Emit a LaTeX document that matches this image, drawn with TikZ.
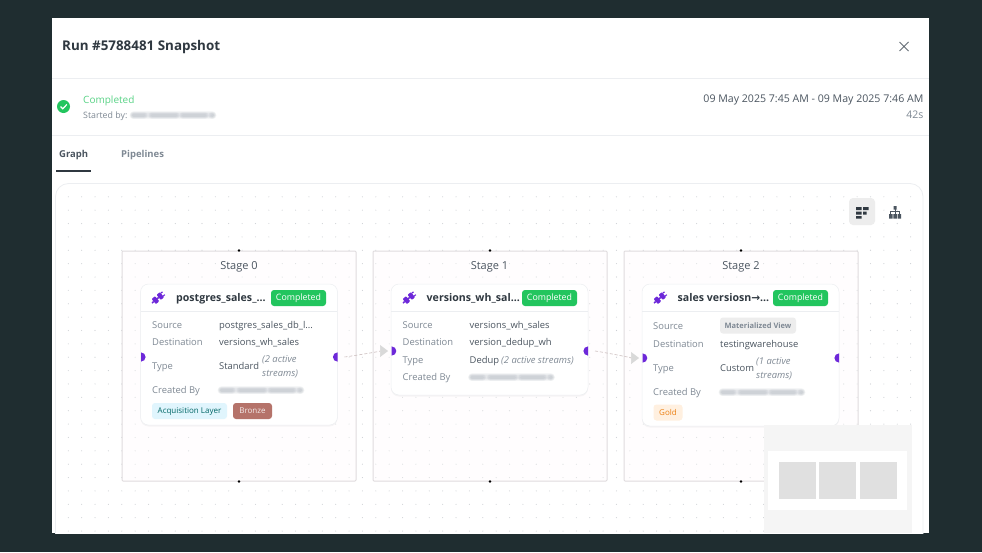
\documentclass[tikz,border=0pt]{standalone}
\usepackage{fontspec}
\setmainfont{Open Sans}
\newfontfamily\arrowfont{DejaVu Sans}
\usepackage{xcolor}
\usetikzlibrary{positioning,calc,arrows.meta,shadows}

\definecolor{bgdark}{HTML}{1F2D30}
\definecolor{inktext}{HTML}{2F3840}
\definecolor{midtext}{HTML}{4B5560}
\definecolor{softtext}{HTML}{7F8994}
\definecolor{hairline}{HTML}{ECEEF1}
\definecolor{griddot}{HTML}{CDD0D4}
\definecolor{portpurple}{HTML}{6D28D9}
\definecolor{okgreen}{HTML}{22C55E}
\definecolor{stageline}{HTML}{E0DCDE}
\definecolor{stagefill}{HTML}{FFFBFC}
\definecolor{bronze}{HTML}{B5736A}
\definecolor{edgeline}{HTML}{CBBDBD}

\tikzset{
  txt/.style={inner sep=0pt,text height=7pt,text depth=2pt,yshift=-1pt},
  lbl/.style={txt,anchor=west,text=softtext,font=\fontsize{9.4}{11}\selectfont},
  val/.style={txt,anchor=west,text=midtext,font=\fontsize{9.4}{11}\selectfont},
  streams/.style={txt,anchor=west,text=softtext,font=\fontsize{9.4}{11}\selectfont\itshape},
  stagebox/.style={draw=stageline,line width=1pt,fill=stagefill,fill opacity=0.3,rounded corners=1pt,
    minimum width=234pt,minimum height=230pt,inner sep=0pt},
  stagetitle/.style={txt,text=midtext,font=\fontsize{11}{13}\selectfont},
  cardbox/.style={draw=hairline,line width=0.5pt,fill=white,rounded corners=8pt,minimum width=197pt,inner sep=0pt,
    drop shadow={opacity=0.07,shadow xshift=0pt,shadow yshift=-1.5pt}},
  cardtitle/.style={txt,anchor=west,text=inktext,font=\fontsize{10.6}{12}\selectfont\bfseries},
  pill/.style={txt,yshift=1pt,rounded corners=3pt,minimum height=16pt,font=\fontsize{8}{10}\selectfont},
  donepill/.style={pill,fill=okgreen,text=white,minimum width=55pt,font=\fontsize{8.8}{10}\selectfont},
  blob/.style={draw=softtext,opacity=0.07,line cap=round},
  stagedot/.style={circle,fill=black,inner sep=0pt,minimum size=2.6pt},
  thumb/.style={fill=black!12,inner sep=0pt,minimum width=37pt,minimum height=37pt},
  flowedge/.style={densely dashed,draw=edgeline,line width=0.6pt,shorten <=7pt,shorten >=3.7pt,
    -{Triangle[length=8pt,width=12pt,color=black!15]}},
  plugicon/.pic={
    \begin{scope}[rotate=40,scale=0.92]
      \fill[portpurple,rounded corners=0.8pt] (-6,-3.6) rectangle (-1.2,3.6);
      \fill[portpurple,rounded corners=0.8pt] (1,-3.6) rectangle (5.6,3.6);
      \fill[portpurple] (-8.5,-0.8) rectangle (-6,0.8);
      \fill[portpurple] (5.6,-2.6) rectangle (8,-1.4);
      \fill[portpurple] (5.6,1.4) rectangle (8,2.6);
      \fill[portpurple] (-1.2,-0.8) rectangle (1,0.8);
    \end{scope}
  }
}

% soft bars in place of the blurred name
\newcommand{\blurname}[2]{
  \foreach \w in {8,6,4}
    \draw[blob,line width=\w pt] ({#1+3},#2) -- ({#1+81},#2);
  \foreach \a/\b in {2/13,21/45,52/74,81/82}
    \foreach \w in {7,5,3}
      \draw[blob,line width=\w pt] ({#1+\a},#2) -- ({#1+\b},#2);
}
\newcommand{\leftport}[1]{\fill[portpurple] ($(#1)+(0,-4.6)$) arc[start angle=90,end angle=-90,radius=4.6pt] -- cycle;}
\newcommand{\rightport}[1]{\fill[portpurple] ($(#1)+(0,-4.6)$) arc[start angle=90,end angle=270,radius=4.6pt] -- cycle;}

\begin{document}
\begin{tikzpicture}[x=1pt,y=-1pt]
    \useasboundingbox (0,0) rectangle (982,552);
    \fill[bgdark] (0,0) rectangle (982,552);

    % Modal
    \node[fill=white,inner sep=0pt,minimum width=877pt,minimum height=515pt] (modal) at (490.5,275.5) {};
    \node[txt,anchor=west,text=inktext,font=\fontsize{13.4}{15}\selectfont\bfseries] (runtitle) at (62,47) {Run \#5788481 Snapshot};
    \draw[softtext!80!black,line width=0.9pt] (899.5,42) -- (908.5,51) (908.5,42) -- (899.5,51);
    \draw[hairline,line width=0.7pt] (52,78) -- (929,78) (52,135) -- (929,135);

    % Status row
    \node[circle,fill=okgreen,inner sep=0pt,minimum size=13pt] (okdot) at (63.5,106.5) {};
    \draw[white,line width=1.2pt] (60.5,106.5) -- (62.8,108.8) -- (66.8,104.5);
    \node[txt,anchor=west,text=okgreen!75!white,font=\fontsize{10}{12}\selectfont] (status) at (83,100) {Completed};
    \node[txt,anchor=west,text=softtext,font=\fontsize{8.8}{10}\selectfont] (startedby) at (83,115) {Started by:};
    \blurname{131}{115}
    \node[txt,anchor=east,text=midtext,font=\fontsize{10.6}{12}\selectfont] (daterange) at (923.5,99) {09 May 2025 7:45 AM - 09 May 2025 7:46 AM};
    \node[txt,anchor=east,text=softtext,font=\fontsize{10.5}{12}\selectfont] (elapsed) at (923.5,115) {42s};

    % Tabs
    \node[txt,anchor=west,text=midtext,font=\fontsize{9.5}{11}\selectfont\bfseries] (tabgraph) at (59,154) {Graph};
    \node[txt,anchor=west,text=softtext,font=\fontsize{9.5}{11}\selectfont\bfseries] (tabpipes) at (121,154) {Pipelines};
    \draw[inktext,line width=1.2pt] (56,171) -- (91,171);

    % Panel and its dot grid
    \begin{scope}
      \clip (52,175) rectangle (929,533);
      \draw[hairline,line width=0.8pt,fill=white,rounded corners=13pt] (55.5,183.5) rectangle (923,570);
      \foreach \i in {0,...,63}
        \foreach \j in {0,...,25}
          \fill[griddot] ({68.3+13.37*\i},{196.8+13.37*\j}) circle (0.55pt);
    \end{scope}

    % View buttons
    \node[fill=black!7,rounded corners=4pt,inner sep=0pt,minimum width=26pt,minimum height=27pt] (gridbtn) at (862,211.5) {};
    \fill[inktext] (856,207) rectangle (861.5,210) (863,207) rectangle (868.5,210)
      (856,211.5) rectangle (861.5,214.5) (863,211.5) rectangle (866.5,214.5) (856,216) rectangle (861.5,218.5);
    \fill[midtext] (893.5,206) rectangle (896.5,209.5) (889,214) rectangle (892.5,218.5)
      (893.3,214) rectangle (896.8,218.5) (897.5,214) rectangle (901,218.5);
    \draw[midtext,line width=0.8pt] (895,209) -- (895,214) (890.7,214) -- (890.7,211.7) -- (899.3,211.7) -- (899.3,214);

    % Stage boxes
    \node[stagebox] (stage0) at (239,366) {};
    \node[stagebox] (stage1) at (490,366) {};
    \node[stagebox] (stage2) at (741,366) {};
    \node[stagetitle] (title0) at (239,266) {Stage 0};
    \node[stagetitle] (title1) at (489.5,266) {Stage 1};
    \node[stagetitle] (title2) at (741,266) {Stage 2};
    \foreach \s in {stage0,stage1,stage2} {
      \node[stagedot] at (\s.north) {};
      \node[stagedot] at (\s.south) {};
    }

    % Card 0
    \node[cardbox,minimum height=141pt] (card0) at (239,354.5) {};
    \draw[hairline,line width=0.7pt] (141,311) -- (337,311);
    \pic at (158,298) {plugicon};
    \node[cardtitle] (name0) at (176,298) {postgres\_sales\_...};
    \node[donepill] (done0) at (298.5,298) {Completed};
    \node[lbl] (src0) at (152,325) {Source};
    \node[lbl] (dst0) at (152,342) {Destination};
    \node[lbl] (typ0) at (152,366) {Type};
    \node[lbl] (own0) at (152,390) {Created By};
    \node[val] (srcval0) at (219,325) {postgres\_sales\_db\_l...};
    \node[val] (dstval0) at (219,342) {versions\_wh\_sales};
    \node[val] (typval0) at (219,366) {Standard};
    \node[streams] (strm0a) at (262,359) {(2 active};
    \node[streams] (strm0b) at (262,373) {streams)};
    \blurname{219}{390}
    \node[pill,fill=cyan!12,text=teal!80!black,minimum width=75pt] (layer0) at (189.5,411) {Acquisition Layer};
    \node[pill,fill=bronze,text=white!85!bronze,minimum width=39pt] (medal0) at (252.5,411) {Bronze};

    % Card 1
    \node[cardbox,minimum height=111pt] (card1) at (489.5,339.5) {};
    \draw[hairline,line width=0.7pt] (391,311) -- (588,311);
    \pic at (409,298) {plugicon};
    \node[cardtitle] (name1) at (426.5,298) {versions\_wh\_sal...};
    \node[donepill] (done1) at (549.5,298) {Completed};
    \node[lbl] (src1) at (402.5,325) {Source};
    \node[lbl] (dst1) at (402.5,342) {Destination};
    \node[lbl] (typ1) at (402.5,359.5) {Type};
    \node[lbl] (own1) at (402.5,377) {Created By};
    \node[val] (srcval1) at (469.5,325) {versions\_wh\_sales};
    \node[val] (dstval1) at (469.5,342) {version\_dedup\_wh};
    \node[val] (typval1) at (469.5,359.5) {Dedup};
    \node[streams] (strm1) at (501,359.5) {(2 active streams)};
    \blurname{469.5}{377}

    % Card 2
    \node[cardbox,minimum height=142pt] (card2) at (740.5,355) {};
    \draw[hairline,line width=0.7pt] (642,311) -- (839,311);
    \pic at (660,298) {plugicon};
    \node[cardtitle] (name2) at (677.5,298) {sales versiosn{\arrowfont→}...};
    \node[donepill] (done2) at (800.5,298) {Completed};
    \node[lbl] (src2) at (653,325.5) {Source};
    \node[lbl] (dst2) at (653,344) {Destination};
    \node[lbl] (typ2) at (653,368) {Type};
    \node[lbl] (own2) at (653,392) {Created By};
    \node[pill,fill=black!7,text=softtext,minimum width=76pt,font=\fontsize{7.5}{10}\selectfont\bfseries] (srcval2) at (758,325.5) {Materialized View};
    \node[val] (dstval2) at (720,344) {testingwarehouse};
    \node[val] (typval2) at (720,368) {Custom};
    \node[streams] (strm2a) at (756,361) {(1 active};
    \node[streams] (strm2b) at (756,374.5) {streams)};
    \blurname{720}{392}
    \node[pill,fill=orange!12,text=orange!70!brown,minimum width=29pt] (medal2) at (668,412.5) {Gold};

    % Ports and edges
    \coordinate (in0) at (141,357);
    \coordinate (out0) at (337.5,357);
    \coordinate (in1) at (391.7,351);
    \coordinate (out1) at (588,351);
    \coordinate (in2) at (642.7,358);
    \coordinate (out2) at (839,358);
    \leftport{in0} \rightport{out0}
    \leftport{in1} \rightport{out1}
    \leftport{in2} \rightport{out2}
    \draw[flowedge] (out0) to[out=0,in=180,looseness=0.4] (in1);
    \draw[flowedge] (out1) to[out=0,in=180,looseness=0.4] (in2);

    % Minimap
    \node[fill=black!4,inner sep=0pt,minimum width=147.5pt,minimum height=108pt] (minimap) at (838,479) {};
    \node[fill=white,inner sep=0pt,minimum width=139.5pt,minimum height=59pt] (miniview) at (837.7,480.5) {};
    \node[thumb] (thumb0) at (797.5,480.5) {};
    \node[thumb,right=3pt of thumb0] (thumb1) {};
    \node[thumb,right=3pt of thumb1] (thumb2) {};
\end{tikzpicture}
\end{document}
